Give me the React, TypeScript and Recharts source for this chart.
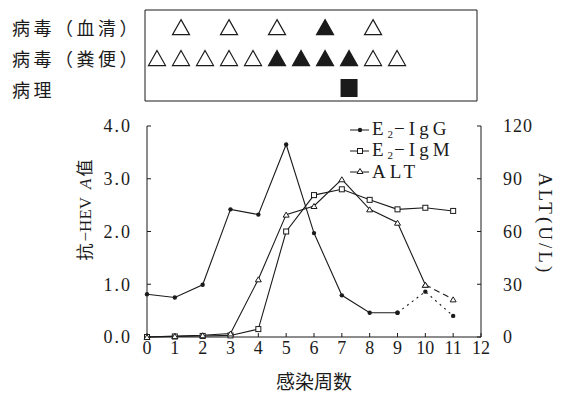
import React from "react";
import { LineChart, Line, XAxis, YAxis, Legend, ScatterChart, Scatter } from "recharts";

const FONT = '"Liberation Serif", "Noto Sans CJK SC", serif';
const INK = "#1b1b1b";

// main chart data (weeks after infection)
const weeks = [0, 1, 2, 3, 4, 5, 6, 7, 8, 9, 10, 11];
const igG = [0.81, 0.75, 0.99, 2.42, 2.32, 3.65, 1.97, 0.79, 0.46, 0.46, 0.86, 0.4];
const igM = [0, 0.01, 0.02, 0.03, 0.15, 2.0, 2.69, 2.8, 2.6, 2.42, 2.45, 2.39];
const alt = [0, 0.5, 1, 2, 32.8, 69.6, 74.5, 89.7, 72.6, 65, 29.7, 21.4];
const xTicks = [0, 1, 2, 3, 4, 5, 6, 7, 8, 9, 10, 11, 12];
const leftTicks = [0, 1, 2, 3, 4];
const rightTicks = [0, 30, 60, 90, 120];

// top panel: marker columns per row
const rowLabels = ["病毒（血清）", "病毒（粪便）", "病理"];
const serumCols = [1, 3, 5, 7, 9];
const serumFilled = [false, false, false, true, false];
const stoolCols = [0, 1, 2, 3, 4, 5, 6, 7, 8, 9, 10];
const stoolFilled = [false, false, false, false, false, true, true, true, true, false, false];
const pathCols = [8];

const rows = weeks.map((w, i) => ({
  week: w,
  igG: i <= 9 ? igG[i] : null,
  igGTail: i >= 9 ? igG[i] : null,
  igM: igM[i],
  alt: i <= 10 ? alt[i] : null,
  altTail: i >= 10 ? alt[i] : null,
}));

const serumData = serumCols.map((c, i) => ({ col: c, row: 0, filled: serumFilled[i] }));
const stoolData = stoolCols.map((c, i) => ({ col: c, row: 1, filled: stoolFilled[i] }));
const pathData = pathCols.map((c) => ({ col: c, row: 2, filled: true }));

function triPath(cx: number, cy: number, w: number, h: number) {
  return `M${cx},${cy - h / 2} L${cx + w / 2},${cy + h / 2} L${cx - w / 2},${cy + h / 2} Z`;
}

const dotIgG = (p: any) => {
  if (p.cx == null || p.cy == null || p.value == null) return <g key={p.index} />;
  return <circle key={p.index} cx={p.cx} cy={p.cy} r={2.2} fill={INK} />;
};
const dotIgM = (p: any) => {
  if (p.cx == null || p.cy == null || p.value == null) return <g key={p.index} />;
  return <rect key={p.index} x={p.cx - 2.5} y={p.cy - 2.5} width={5} height={5} fill="#fff" stroke={INK} strokeWidth={1} />;
};
const dotAlt = (p: any) => {
  if (p.cx == null || p.cy == null || p.value == null) return <g key={p.index} />;
  return <path key={p.index} d={triPath(p.cx, p.cy, 6, 5)} fill="#fff" stroke={INK} strokeWidth={1} />;
};

const TriShape = (p: any) => (
  <path
    d={triPath(p.cx, p.cy + 1, 17, 15)}
    fill={p.payload.filled ? INK : "#fff"}
    stroke={INK}
    strokeWidth={1.2}
  />
);
const SquareShape = (p: any) => <rect x={p.cx - 8.5} y={p.cy - 9} width={17} height={18} fill={INK} />;

const RowTick = (p: any) => (
  <text x={12} y={p.y + 5} fontSize={18} letterSpacing={3.5} fill={INK} fontFamily={FONT} dominantBaseline="middle">
    {rowLabels[p.payload.value]}
  </text>
);

const XTitle = () => (
  <text x={314} y={382} textAnchor="middle" dominantBaseline="central" fontSize={19} fill={INK} fontFamily={FONT}>
    感染周数
  </text>
);

const LeftTitle = () => (
  <text
    x={85}
    y={210}
    transform="rotate(-90 85 210)"
    textAnchor="middle"
    dominantBaseline="central"
    fontSize={17}
    fill={INK}
    fontFamily={FONT}
  >
    抗<tspan dx={2}>−HEV</tspan>
    <tspan dx={8} fontStyle="italic">A</tspan>
    <tspan dx={2}>值</tspan>
  </text>
);

const RightTitle = () => (
  <text
    x={545}
    y={224}
    transform="rotate(90 545 224)"
    textAnchor="middle"
    dominantBaseline="central"
    fontSize={19}
    letterSpacing={3}
    fill={INK}
    fontFamily={FONT}
  >
    ALT(U/L)
  </text>
);

const legendItems = [
  { name: "IgG", sub: true, dot: "circle" },
  { name: "IgM", sub: true, dot: "square" },
  { name: "ALT", sub: false, dot: "tri" },
];

const LegendBox = () => (
  <div style={{ fontFamily: FONT, fontSize: 19, color: INK, lineHeight: "21px" }}>
    {legendItems.map((it) => (
      <div key={it.name} style={{ display: "flex", alignItems: "center", height: 21 }}>
        <svg width={22} height={12} style={{ marginRight: 1 }}>
          <line x1={1} y1={6} x2={20} y2={6} stroke={INK} strokeWidth={1} />
          {it.dot === "circle" && <circle cx={11} cy={6} r={2.2} fill={INK} />}
          {it.dot === "square" && <rect x={8.5} y={3.5} width={5} height={5} fill="#fff" stroke={INK} />}
          {it.dot === "tri" && <path d={triPath(11, 5, 6, 5)} fill="#fff" stroke={INK} />}
        </svg>
        <span style={{ letterSpacing: 4, whiteSpace: "nowrap" }}>
          {it.sub ? (
            <>
              E<span style={{ fontSize: 11, letterSpacing: 1, position: "relative", top: 3 }}>2</span>−{it.name}
            </>
          ) : (
            it.name
          )}
        </span>
      </div>
    ))}
  </div>
);

export default function App() {
  return (
    <div style={{ position: "fixed", left: 0, top: 0, width: 562, height: 395, background: "#fff", fontFamily: FONT }}>
      <div style={{ position: "absolute", left: 0, top: 0 }}>
        <LineChart
          width={562}
          height={395}
          data={rows}
          margin={{ top: 126, left: 60, right: 7, bottom: 8 }}
        >
          <XAxis
            dataKey="week"
            type="number"
            domain={[0, 12]}
            ticks={xTicks}
            interval={0}
            height={50}
            tickSize={-4}
            tickMargin={8}
            stroke={INK}
            tick={{ fontSize: 18, fill: INK, fontFamily: FONT }}
            label={<XTitle />}
          />
          <YAxis
            yAxisId="l"
            domain={[0, 4]}
            ticks={leftTicks}
            width={87}
            tickSize={-4}
            tickMargin={19}
            stroke={INK}
            tickFormatter={(v) => Number(v).toFixed(1)}
            tick={{ fontSize: 18, fill: INK, fontFamily: FONT, letterSpacing: 2 }}
            label={<LeftTitle />}
          />
          <YAxis
            yAxisId="r"
            orientation="right"
            domain={[0, 120]}
            ticks={rightTicks}
            width={74}
            tickSize={-4}
            tickMargin={26}
            stroke={INK}
            tick={{ fontSize: 18, fill: INK, fontFamily: FONT, letterSpacing: 1 }}
            label={<RightTitle />}
          />
          <Legend
            layout="vertical"
            verticalAlign="middle"
            align="center"
            wrapperStyle={{ left: 349, top: 119, width: 130 }}
            content={<LegendBox />}
          />
          <Line yAxisId="l" dataKey="igG" stroke={INK} strokeWidth={1.1} dot={dotIgG} isAnimationActive={false} legendType="none" />
          <Line yAxisId="l" dataKey="igGTail" stroke={INK} strokeWidth={1.1} strokeDasharray="2 4" dot={dotIgG} isAnimationActive={false} legendType="none" />
          <Line yAxisId="l" dataKey="igM" stroke={INK} strokeWidth={1.1} dot={dotIgM} isAnimationActive={false} legendType="none" />
          <Line yAxisId="r" dataKey="alt" stroke={INK} strokeWidth={1.1} dot={dotAlt} isAnimationActive={false} legendType="none" />
          <Line yAxisId="r" dataKey="altTail" stroke={INK} strokeWidth={1.1} strokeDasharray="6 4" dot={dotAlt} isAnimationActive={false} legendType="none" />
        </LineChart>
      </div>
      <div style={{ position: "absolute", left: 0, top: 0 }}>
        <ScatterChart width={562} height={110} margin={{ top: 9, left: 5, right: 84, bottom: 8 }}>
          <XAxis xAxisId="b" type="number" dataKey="col" domain={[-0.5, 13.33]} tick={false} tickLine={false} height={1} stroke={INK} />
          <XAxis xAxisId="t" orientation="top" type="number" dataKey="col" domain={[-0.5, 13.33]} tick={false} tickLine={false} height={1} stroke={INK} />
          <YAxis
            yAxisId="l"
            type="number"
            dataKey="row"
            domain={[-0.52, 2.42]}
            reversed
            ticks={[0, 1, 2]}
            width={140}
            tickLine={false}
            stroke={INK}
            tick={<RowTick />}
          />
          <YAxis yAxisId="r" orientation="right" type="number" dataKey="row" domain={[-0.52, 2.42]} reversed tick={false} tickLine={false} width={1} stroke={INK} />
          <Scatter xAxisId="b" yAxisId="l" data={serumData} shape={TriShape} isAnimationActive={false} />
          <Scatter xAxisId="b" yAxisId="l" data={stoolData} shape={TriShape} isAnimationActive={false} />
          <Scatter xAxisId="b" yAxisId="l" data={pathData} shape={SquareShape} isAnimationActive={false} />
        </ScatterChart>
      </div>
    </div>
  );
}
